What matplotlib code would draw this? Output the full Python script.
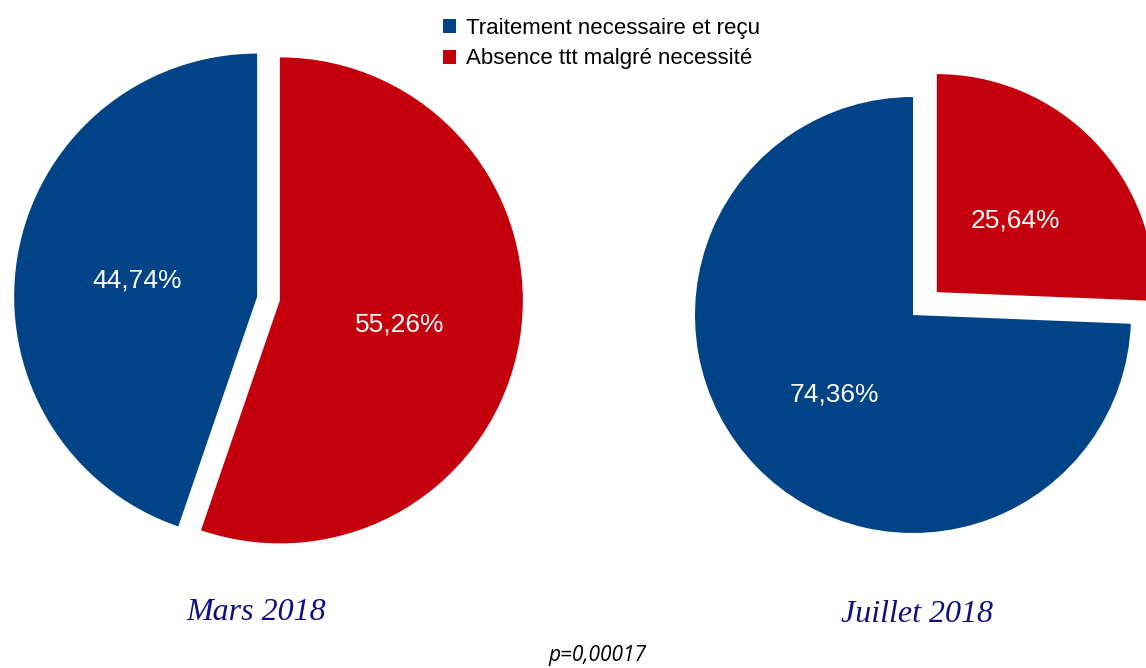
import matplotlib.pyplot as plt

# Data
labels = ["Traitement necessaire et reçu", "Absence ttt malgré necessité"]
mars_values = [44.74, 55.26]
juillet_values = [74.36, 25.64]
titles = ["Mars 2018", "Juillet 2018"]
p_text = "p=0,00017"

colors = ["#004487", "#C3000B"]
title_color = "#0F0F80"

W, H = 1146, 668


def pct_fmt(p):
    return f"{p:.2f}%".replace(".", ",")


fig = plt.figure(figsize=(W / 100, H / 100), dpi=100)
ax = fig.add_axes([0, 0, 1, 1])

text_style = dict(color="white", fontsize=19, family="Liberation Sans")

# Left pie (Mars)
wedges, _, auto1 = ax.pie(
    mars_values, colors=colors, startangle=90, counterclock=True,
    center=(268.5, H - 298.5), radius=243, explode=[11.5, 11.5],
    autopct=pct_fmt, pctdistance=0.5, textprops=text_style,
    wedgeprops=dict(linewidth=0),
)

# Right pie (Juillet)
_, _, auto2 = ax.pie(
    juillet_values, colors=colors, startangle=90, counterclock=True,
    center=(913, H - 315), radius=218, explode=[0, 33],
    autopct=pct_fmt, pctdistance=0.5, textprops=text_style,
    wedgeprops=dict(linewidth=0),
)

# nudge the percentage labels down a little
for t in auto1 + auto2:
    x, y = t.get_position()
    t.set_position((x, y - 4))

ax.set_xlim(0, W)
ax.set_ylim(0, H)
ax.set_aspect("equal")
ax.axis("off")

# Titles under each pie
title_style = dict(fontsize=23, family="Liberation Serif", style="italic",
                   color=title_color, ha="center", va="center")
ax.text(256, H - 612, titles[0], **title_style)
ax.text(917, H - 614, titles[1], **title_style)

ax.text(597, H - 656, p_text, fontsize=15, family="Open Sans", style="italic",
        ha="center", va="center", color="black")

fig.legend(
    wedges, labels, loc="upper left", bbox_to_anchor=(432 / W, 1 - 7 / H),
    frameon=False, prop=dict(family="Liberation Sans", size=16),
    handlelength=0.6, handleheight=0.6, handletextpad=0.45, labelspacing=0.42,
    borderpad=0,
)

fig.savefig("out.png", dpi=100)
